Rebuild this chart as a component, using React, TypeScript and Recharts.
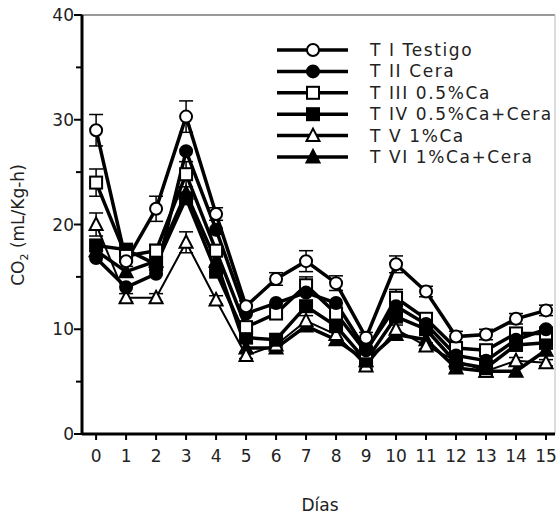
import React from 'react';
import { LineChart, Line, XAxis, YAxis, ErrorBar, Legend, ReferenceLine } from 'recharts';

// days of storage
const days = [0, 1, 2, 3, 4, 5, 6, 7, 8, 9, 10, 11, 12, 13, 14, 15];

// CO2 production (mL/Kg-h) per treatment
const t1 = [29, 16.5, 21.5, 30.3, 21, 12.2, 14.8, 16.5, 14.4, 9.2, 16.2, 13.6, 9.3, 9.5, 11, 11.8];
const t2 = [16.8, 14, 15.3, 27, 19.5, 11.5, 12.5, 13.5, 12.5, 8, 12.2, 10.5, 7.5, 7, 9, 10];
const t3 = [24, 17, 17.5, 24.8, 17.5, 10.2, 11.5, 14.2, 11.5, 7.8, 13, 11, 8.2, 8, 9.6, 9.6];
const t4 = [18, 17.6, 16.2, 22.5, 15.5, 9.2, 9, 12.2, 10.3, 7, 11.2, 10, 6.8, 6.3, 8.5, 8.7];
const t5 = [20, 13, 13, 18.3, 12.8, 7.5, 8.5, 10.8, 9.5, 6.5, 10, 8.4, 7, 6, 7, 6.8];
const t6 = [17.5, 15.5, 16.5, 23, 16.5, 8.2, 8.2, 10.3, 9, 7, 9.5, 9, 6.3, 6, 6, 8];

// standard errors
const e1 = [1.5, 0.5, 1.2, 1.5, 0.6, 0.5, 0.6, 1, 0.7, 0.5, 0.8, 0.5, 0.5, 0.5, 0.5, 0.5];
const e3 = [1.3, 0.5, 0.6, 1.2, 0.5, 0.4, 0.4, 0.8, 0.5, 0.4, 0.8, 0.4, 0.4, 0.4, 0.4, 0.4];
const e5 = [1.1, 0.4, 0.4, 1, 0.4, 0.3, 0.3, 0.5, 0.4, 0.3, 0.4, 0.3, 0.3, 0.3, 0.3, 0.3];

const xTicks = days;
const yTicks = [0, 5, 10, 15, 20, 25, 30, 35, 40];

const names = ['T I Testigo', 'T II Cera', 'T III 0.5%Ca', 'T IV 0.5%Ca+Cera', 'T V 1%Ca', 'T VI 1%Ca+Cera'];
const shapes = ['circle', 'circle', 'square', 'square', 'triangle', 'triangle'];
const filled = [false, true, false, true, false, true];

const data = days.map((d, i) => ({
  day: d,
  t1: t1[i], t2: t2[i], t3: t3[i], t4: t4[i], t5: t5[i], t6: t6[i],
  e1: e1[i], e3: e3[i], e5: e5[i],
}));

const FONT = '"DejaVu Sans", sans-serif';
const PLOT_LEFT = 82;
const PLOT_BOTTOM = 434;

const Marker = ({ cx, cy, shape, fill }: { cx: number; cy: number; shape: string; fill: boolean }) => {
  const f = fill ? '#000' : '#fff';
  if (shape === 'circle') return <circle cx={cx} cy={cy} r={6} fill={f} stroke="#000" strokeWidth={2} />;
  if (shape === 'square') return <rect x={cx - 6} y={cy - 6} width={12} height={12} fill={f} stroke="#000" strokeWidth={2} />;
  return <polygon points={`${cx},${cy - 7} ${cx + 6.5},${cy + 5.5} ${cx - 6.5},${cy + 5.5}`} fill={f} stroke="#000" strokeWidth={2} />;
};

const makeDot = (i: number) => (props: any) => {
  if (props.cx == null || props.cy == null) return <g key={props.index} />;
  return <Marker key={props.index} cx={props.cx} cy={props.cy} shape={shapes[i]} fill={filled[i]} />;
};

const XTick = (props: any) => {
  const { x, payload } = props;
  return (
    <g>
      <line x1={x} y1={PLOT_BOTTOM} x2={x} y2={PLOT_BOTTOM + 6} stroke="#000" strokeWidth={2} />
      <text x={x} y={PLOT_BOTTOM + 28} textAnchor="middle" fontFamily={FONT} fontSize={17} fill="#222">{payload.value}</text>
    </g>
  );
};

const YTick = (props: any) => {
  const { y, payload } = props;
  const major = payload.value % 10 === 0;
  return (
    <g>
      <line x1={PLOT_LEFT - (major ? 8 : 6)} y1={y} x2={PLOT_LEFT} y2={y} stroke="#000" strokeWidth={2} />
      {major && (
        <text x={PLOT_LEFT - 8} y={y + 6} textAnchor="end" fontFamily={FONT} fontSize={17} fill="#222">{payload.value}</text>
      )}
    </g>
  );
};

const YLabel = () => (
  <text transform="translate(24, 225) rotate(-90)" textAnchor="middle" fontFamily={FONT} fontSize={17} fill="#222">
    CO<tspan fontSize={11} dy={4}>2</tspan><tspan dy={-4}> (mL/Kg-h)</tspan>
  </text>
);

const XLabel = () => (
  <text x={320} y={511} textAnchor="middle" fontFamily={FONT} fontSize={17} fill="#222">Días</text>
);

const LegendBox = () => (
  <svg width={300} height={135}>
    {names.map((n, i) => {
      const y = 10 + i * 21.4;
      return (
        <g key={n}>
          <line x1={0} y1={y} x2={71} y2={y} stroke="#000" strokeWidth={3.5} />
          <Marker cx={36} cy={y} shape={shapes[i]} fill={filled[i]} />
          <text x={93} y={y + 6} fontFamily={FONT} fontSize={17} fill="#222" letterSpacing={1.6}>{n}</text>
        </g>
      );
    })}
  </svg>
);

const keys = ['t1', 't2', 't3', 't4', 't5', 't6'];
const errKeys: Record<string, string> = { t1: 'e1', t3: 'e3', t5: 'e5' };

export default function App() {
  return (
    <div style={{ position: 'absolute', left: 0, top: 0, width: 560, height: 516, background: '#fff' }}>
      <LineChart width={560} height={516} data={data} margin={{ top: 15, right: 5, bottom: 0, left: 0 }}>
        <XAxis
          dataKey="day"
          type="number"
          domain={[-0.47, 15.3]}
          ticks={xTicks}
          allowDataOverflow
          height={82}
          tickLine={false}
          axisLine={{ stroke: '#000', strokeWidth: 3 }}
          tick={<XTick />}
          label={<XLabel />}
        />
        <YAxis
          type="number"
          domain={[0, 40]}
          ticks={yTicks}
          width={82}
          tickLine={false}
          axisLine={{ stroke: '#000', strokeWidth: 3 }}
          tick={<YTick />}
          label={<YLabel />}
        />
        <ReferenceLine y={40} stroke="#777" strokeWidth={1.5} />
        <ReferenceLine x={15.3} stroke="#bbb" strokeWidth={1} />
        {keys.slice().reverse().map((k) => {
          const i = keys.indexOf(k);
          return (
            <Line
              key={k}
              dataKey={k}
              name={names[i]}
              stroke="#000"
              strokeWidth={k === 't5' ? 2 : 3.5}
              dot={makeDot(i)}
              activeDot={false}
              isAnimationActive={false}
            >
              {errKeys[k] && <ErrorBar dataKey={errKeys[k]} width={7} stroke="#000" strokeWidth={1.5} direction="y" />}
            </Line>
          );
        })}
        <Legend
          layout="horizontal"
          verticalAlign="middle"
          align="center"
          content={<LegendBox />}
          wrapperStyle={{ position: 'absolute', left: 277, top: 40, width: 300, height: 135 }}
        />
      </LineChart>
    </div>
  );
}
